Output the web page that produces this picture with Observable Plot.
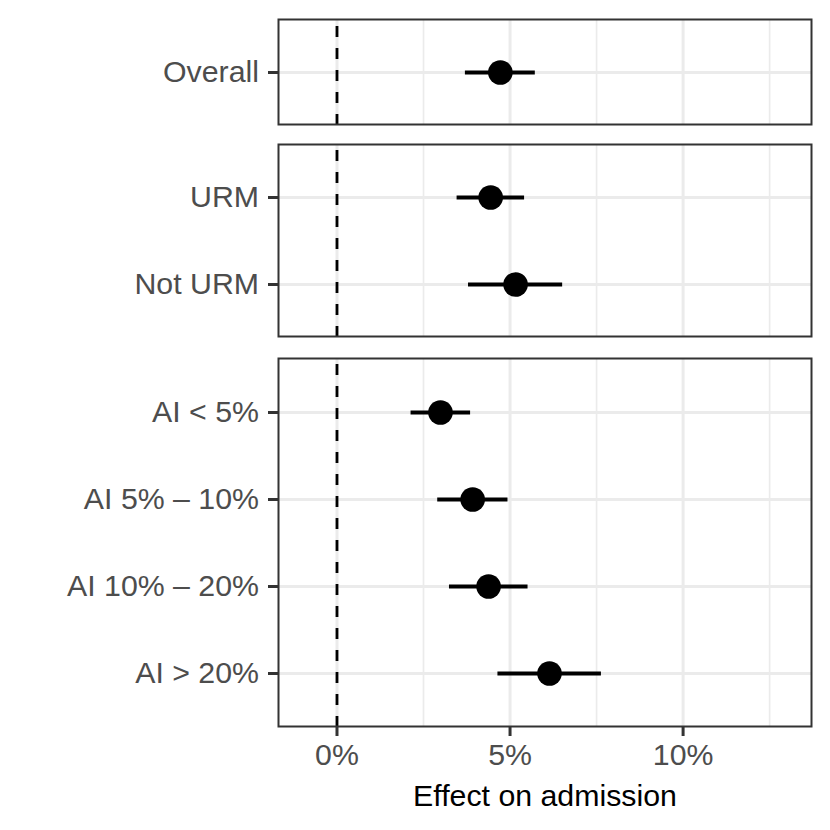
<!DOCTYPE html>
<html><head><meta charset="utf-8">
<script src="https://cdn.jsdelivr.net/npm/d3@7"></script>
<script src="https://cdn.jsdelivr.net/npm/@observablehq/plot@0.6"></script>
<style>
body{margin:0;background:#fff}
#chart svg{display:block}
</style>
</head><body><div id="chart"></div>
<script>
// ---- data ----
const groups   = ["Overall", "URM", "Not URM", "AI < 5%", "AI 5% \u2013 10%", "AI 10% \u2013 20%", "AI > 20%"];
const panelOf  = [1, 2, 2, 3, 3, 3, 3];
const estimate = [4.72, 4.44, 5.16, 2.99, 3.92, 4.38, 6.14];
const lower    = [3.71, 3.47, 3.80, 2.14, 2.91, 3.25, 4.65];
const upper    = [5.73, 5.42, 6.52, 3.86, 4.94, 5.52, 7.64];
const xTicks   = [0, 5, 10];
const xMinor   = [2.5, 7.5, 12.5];
const xTitle   = "Effect on admission";

// ---- layout ----
const xDomain = [-1.69, 13.71];
const layouts = [
  {panel: 1, height: 134, marginTop: 19, marginBottom: 10},
  {panel: 2, height: 213, marginTop: 10, marginBottom: 11},
  {panel: 3, height: 483, marginTop: 11, marginBottom: 104}
];

const rows = groups.map((g, i) => ({group: g, panel: panelOf[i], est: estimate[i], lo: lower[i], hi: upper[i]}));
const font = "'Liberation Sans', Arial, Helvetica, sans-serif";
const chart = document.getElementById("chart");

layouts.forEach((L, k) => {
  const data = rows.filter(d => d.panel === L.panel);
  const cats = data.map(d => d.group);
  const H = L.height - L.marginTop - L.marginBottom;
  const dashOff = (((10 - H) % 22) + 22) % 22;
  const isLast = k === layouts.length - 1;
  const marks = [
    Plot.ruleX(xMinor, {stroke: "#EBEBEB", strokeWidth: 1.7}),
    Plot.ruleX(xTicks, {stroke: "#EBEBEB", strokeWidth: 3}),
    Plot.ruleY(cats, {stroke: "#EBEBEB", strokeWidth: 3}),
    Plot.ruleX([0], {stroke: "black", strokeWidth: 2.8, strokeDasharray: "11,11", strokeDashoffset: dashOff}),
    Plot.ruleY(data, {y: "group", x1: "lo", x2: "hi", stroke: "black", strokeWidth: 3.8}),
    Plot.dot(data, {x: "est", y: "group", r: 12.3, fill: "black", stroke: null}),
    Plot.frame({stroke: "#333333", strokeWidth: 2}),
    Plot.axisY({tickSize: 10, tickPadding: 9.5, fontSize: 30.3, fill: "#4D4D4D", stroke: "#333333", strokeWidth: 3, label: null, dy: 0})
  ];
  if (isLast) {
    marks.push(Plot.axisX(xTicks, {tickSize: 10, tickPadding: 7, tickFormat: d => d + "%", fontSize: 30.3, fill: "#4D4D4D", stroke: "#333333", strokeWidth: 3, label: null}));
    marks.push(Plot.axisX([], {tickSize: 0, label: xTitle, labelAnchor: "center", labelArrow: "none", labelOffset: 79, fontSize: 30.3, fill: "black"}));
  }
  const svg = Plot.plot({
    width: 830,
    height: L.height,
    marginTop: L.marginTop,
    marginBottom: L.marginBottom,
    marginLeft: 278,
    marginRight: 19,
    style: {fontFamily: font, background: "white", overflow: "visible"},
    x: {domain: xDomain, axis: isLast ? undefined : null, label: null},
    y: {type: "point", domain: cats, padding: 0.6, label: null},
    marks
  });
  chart.appendChild(svg);
});
</script>
</body></html>
